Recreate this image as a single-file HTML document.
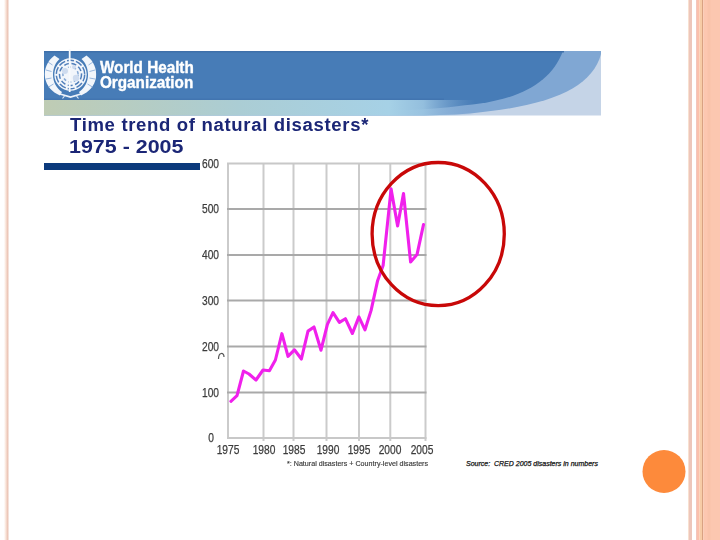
<!DOCTYPE html>
<html><head><meta charset="utf-8">
<style>
html,body{margin:0;padding:0;background:#fff;}
body{width:720px;height:540px;position:relative;overflow:hidden;font-family:"Liberation Sans",sans-serif;}
.abs{position:absolute;}
.ttl{color:#1b2676;font-weight:bold;font-size:17.5px;line-height:22.5px;white-space:nowrap;transform-origin:0 0;}
</style></head><body>
<!-- edge decorations -->
<svg class="abs" style="left:0;top:0" width="720" height="540" viewBox="0 0 720 540">
  <defs>
    <linearGradient id="lb" x1="0" x2="1" y1="0" y2="0">
      <stop offset="0" stop-color="#fff"/>
      <stop offset="0.35" stop-color="#f9e2d6"/>
      <stop offset="0.65" stop-color="#ebc6b8"/>
      <stop offset="1" stop-color="#fff"/>
    </linearGradient>
  </defs>
  <rect x="4" y="0" width="5.5" height="540" fill="url(#lb)"/>
  <rect x="688" y="0" width="1" height="540" fill="#f8e0d0"/>
  <rect x="689" y="0" width="3" height="540" fill="#edc6ba"/>
  <rect x="696" y="0" width="1" height="540" fill="#f2c6bc"/>
  <rect x="697" y="0" width="2.5" height="540" fill="#fbc0ac"/>
  <rect x="699.5" y="0" width="2.5" height="540" fill="#f7cca6"/>
  <rect x="702" y="0" width="1.2" height="540" fill="#d9a282"/>
  <rect x="703.2" y="0" width="16.8" height="540" fill="#fcc7b0"/>
  <rect x="707.5" y="0" width="3" height="540" fill="#f9c3aa"/>
  <circle cx="664" cy="471.5" r="21.5" fill="#fd8a3b"/>
</svg>

<!-- WHO banner -->
<svg class="abs" style="left:0;top:0" width="720" height="540" viewBox="0 0 720 540">
  <defs>
    <linearGradient id="band" x1="44" x2="475" y1="0" y2="0" gradientUnits="userSpaceOnUse">
      <stop offset="0" stop-color="#bfccb4"/>
      <stop offset="0.45" stop-color="#abcdd4"/>
      <stop offset="0.8" stop-color="#a6d1e6"/>
      <stop offset="0.88" stop-color="#9cc6e2" stop-opacity="0.9"/>
      <stop offset="1" stop-color="#7fa6d2" stop-opacity="0"/>
    </linearGradient>
  </defs>
  <rect x="44" y="51" width="557" height="64.5" fill="#c5d4e7"/>
  <path d="M44 51 L601 51 L601 54 C592 88 550 106 470 113.5 C450 115 430 115.5 410 115.5 L44 115.5 Z" fill="#80a7d3"/>
  <path d="M44 51 L563 51 C552 80 525 97 480 103.5 C460 106 440 108.5 410 110 L44 110 Z" fill="#477cb7"/>
  <rect x="44" y="100" width="431" height="15.5" fill="url(#band)"/>
  <rect x="44" y="51" width="520" height="1.5" fill="#3f70aa"/>
  <rect x="44" y="98.5" width="400" height="1.5" fill="#4173ae" opacity="0.8"/>
</svg>

<!-- WHO emblem -->
<svg class="abs" style="left:0;top:0;filter:blur(0.3px)" width="720" height="540" viewBox="0 0 720 540">
  <g fill="#f2f6fb">
    <path d="M54.5 55.5 C47 61 44 69 45 77.5 C46.5 86 52 92 60 95.5 L62 92 C56.5 88 53 82 53 75 C53 68 55.5 62.5 59.5 59 Z"/>
    <path d="M86.5 55.5 C94 61 97 69 96 77.5 C94.5 86 89 92 81 95.5 L79 92 C84.5 88 88 82 88 75 C88 68 85.5 62.5 81.5 59 Z"/>
    <circle cx="70.5" cy="74.5" r="16.2"/>
  </g>
  <g fill="none" stroke="#4f7eba" stroke-width="1.5">
    <circle cx="70.5" cy="74.5" r="14.2" stroke-dasharray="7 2"/>
    <circle cx="70.5" cy="74.5" r="11" stroke-dasharray="5 2.5"/>
    <circle cx="70.5" cy="74.5" r="7.6" stroke-dasharray="3 2.5" stroke="#86a9d5"/>
  </g>
  <g fill="none" stroke="#8fb0da" stroke-width="0.9">
    <path d="M48 62 L52.5 65 M46 70 L51.5 71.5 M46 79 L51.5 78 M48.5 87 L53.5 84"/>
    <path d="M93 62 L88.5 65 M95 70 L89.5 71.5 M95 79 L89.5 78 M92.5 87 L87.5 84"/>
  </g>
  <g fill="#cfdcef">
    <circle cx="65" cy="71" r="3"/>
    <circle cx="76" cy="78" r="3.2"/>
    <circle cx="74" cy="67" r="2"/>
  </g>
  <path d="M60 94 L70.5 97 L81 94" fill="none" stroke="#eef3fa" stroke-width="1.8"/>
  <path d="M64.5 96 L62.5 98.5 M76.5 96 L78.5 98.5" fill="none" stroke="#dfe9f5" stroke-width="1.2"/>
  <line x1="69.7" y1="49" x2="69.7" y2="92" stroke="#f7fafd" stroke-width="1.8"/>
</svg>

<div class="abs" style="left:100px;top:59.8px;color:#fff;font-weight:bold;font-size:17px;line-height:15px;transform-origin:0 0;transform:scaleX(0.897);-webkit-text-stroke:0.4px #fff;white-space:nowrap;">World Health<br>Organization</div>

<!-- title -->
<div class="abs ttl" style="left:70px;top:113.6px;transform:scaleX(1.06);letter-spacing:0.62px;">Time trend of natural disasters*</div>
<div class="abs ttl" style="left:69px;top:136.4px;transform:scaleX(1.225);">1975 - 2005</div>
<div class="abs" style="left:44px;top:163px;width:156px;height:7px;background:#0b3a7c;"></div>

<!-- chart -->
<svg class="abs" style="left:0;top:0" width="720" height="540" viewBox="0 0 720 540">
  <g stroke="#cbcbcb" stroke-width="2">
    <line x1="228" y1="163" x2="228" y2="439"/>
    <line x1="263.5" y1="163" x2="263.5" y2="441"/>
    <line x1="293.5" y1="163" x2="293.5" y2="441"/>
    <line x1="326.5" y1="163" x2="326.5" y2="441"/>
    <line x1="359" y1="163" x2="359" y2="441"/>
    <line x1="390.3" y1="163" x2="390.3" y2="441"/>
    <line x1="425.5" y1="163" x2="425.5" y2="441"/>
  </g>
  <g stroke="#a9a9a9" stroke-width="2">
    <line x1="227" y1="163.6" x2="426.5" y2="163.6" stroke="#c8c8c8"/>
    <line x1="227" y1="209" x2="426.5" y2="209"/>
    <line x1="227" y1="255" x2="426.5" y2="255"/>
    <line x1="227" y1="300.5" x2="426.5" y2="300.5"/>
    <line x1="227" y1="346.6" x2="426.5" y2="346.6"/>
    <line x1="227" y1="392.6" x2="426.5" y2="392.6"/>
    <line x1="227" y1="438" x2="426.5" y2="438" stroke="#c8c8c8"/>
  </g>
  <polyline fill="none" stroke="#f020ec" stroke-width="3.1" stroke-linejoin="round" stroke-linecap="round"
    points="230.9,401.3 237,395.6 243.5,371 249,374 256,380 263,370 269.4,370.7 275.4,360 281.9,333.7 288,356.3 294.4,349.8 301.4,359 308,331.1 314,327 321,350.2 327.4,324.3 333,312.6 339.4,322.4 345.4,318.7 352.4,333.5 358.9,316.9 365,329.8 371.1,310.4 377.6,280.7 383.1,265.5 391.1,188.9 397.6,225.9 403.5,193.5 410.6,262 417,254.6 423.5,224.6"/>
  <ellipse cx="438.2" cy="234.1" rx="66.1" ry="71.6" fill="none" stroke="#c80808" stroke-width="3.3"/>
  <path d="M218.5 359 C218.5 352 224 352 224 357" fill="none" stroke="#555" stroke-width="1.2"/>
</svg>

<style>
.yl{position:absolute;left:189px;width:36px;text-align:right;font-size:12px;line-height:15px;color:#3c3c3c;-webkit-text-stroke:0.25px #3c3c3c;margin-top:0.5px;transform-origin:100% 50%;transform:scaleX(0.85);}
.yl{left:183px;}
.xl{position:absolute;top:442.5px;width:40px;text-align:center;font-size:12px;line-height:15px;color:#3c3c3c;-webkit-text-stroke:0.25px #3c3c3c;transform:scaleX(0.85);}
</style>
<div class="yl" style="top:156.1px">600</div>
<div class="yl" style="top:201.5px">500</div>
<div class="yl" style="top:247.5px">400</div>
<div class="yl" style="top:293.0px">300</div>
<div class="yl" style="top:339.1px">200</div>
<div class="yl" style="top:385.1px">100</div>
<div class="yl" style="top:430.5px;left:177.5px">0</div>
<div class="xl" style="left:208.3px">1975</div>
<div class="xl" style="left:243.6px">1980</div>
<div class="xl" style="left:274.3px">1985</div>
<div class="xl" style="left:307.5px">1990</div>
<div class="xl" style="left:339.0px">1995</div>
<div class="xl" style="left:370px">2000</div>
<div class="xl" style="left:402px">2005</div>
<div class="abs" style="left:287px;top:458.7px;font-size:7px;line-height:9px;color:#3a3a3a;-webkit-text-stroke:0.15px #3a3a3a;white-space:nowrap;transform-origin:0 0;transform:scaleX(1.02);">*: Natural disasters + Country-level disasters</div>
<div class="abs" style="left:466px;top:459px;font-size:7px;line-height:9px;color:#111;font-style:italic;-webkit-text-stroke:0.25px #111;white-space:nowrap;transform-origin:0 0;">Source:&nbsp; CRED 2005 disasters in numbers</div>
</body></html>
